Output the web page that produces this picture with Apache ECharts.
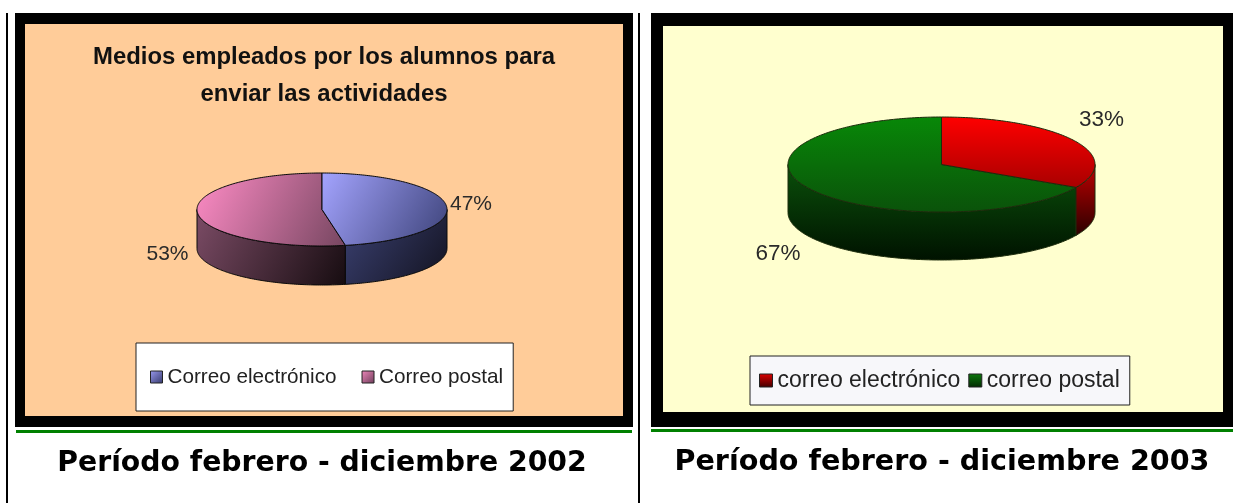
<!DOCTYPE html>
<html><head><meta charset="utf-8">
<style>html,body{margin:0;padding:0;background:#fff}#c{width:1233px;height:503px}</style>
<script src="https://cdn.jsdelivr.net/npm/echarts@6/dist/echarts.min.js"></script>
</head><body><div id="c"></div>
<script>
// ---- data ----
const categories2002 = ['Correo electrónico', 'Correo postal'];
const values2002 = [47, 53];
const categories2003 = ['correo electrónico', 'correo postal'];
const values2003 = [33, 67];
const chartTitle2002 = 'Medios empleados por los alumnos para\nenviar las actividades';
const caption2002 = 'Período febrero - diciembre 2002';
const caption2003 = 'Período febrero - diciembre 2003';

// ---- layout and styling ----
function grad(x2, y2, a, b) {
  return {type:'linear', x:0, y:0, x2:x2, y2:y2, colorStops:[{offset:0,color:a},{offset:1,color:b}]};
}
const layout2002 = {
  cx:322, cy:209.5, rx:125, ry:36.5, depth:39, stroke:'#0a0a0a', font:'21px "Liberation Sans"',
  labels:[{x:471,y:204},{x:167.5,y:254}],
  top:[grad(1,1,'#a4a4ff','#3c4278'), grad(1,1,'#ff8cc6','#764660')],
  wall:[grad(1,1,'#3c4274','#12121f'), grad(1,1,'#7c4c66','#160c10')],
  key:[grad(1,1,'#9a9af0','#34386a'), grad(1,1,'#f088bc','#6c3c58')]
};
const layout2003 = {
  cx:941.5, cy:164.5, rx:153.5, ry:47.5, depth:48, stroke:'#1c2c0c', font:'22.5px "Liberation Sans"',
  labels:[{x:1101.5,y:120},{x:778,y:254}],
  top:[grad(0,1,'#ff0000','#a80000'), grad(0,1,'#088808','#0a520a')],
  wall:[grad(0,1,'#c00000','#2a0000'), grad(0,1,'#0a500a','#001200')],
  key:[grad(0,1,'#e00000','#400000'), grad(0,1,'#0c7a0c','#022a02')]
};

function pt(L, deg, dy) {
  const t = deg * Math.PI / 180;
  return [L.cx + L.rx * Math.sin(t), L.cy - L.ry * Math.cos(t) + (dy || 0)];
}
function sliceSeries(name, L, i, value, before) {
  return {
    type:'custom', name:name, coordinateSystem:'none', silent:true, z:5 - i,
    data:[[value, before]],
    itemStyle:{color:L.key[i]},
    renderItem:function (params, api) {
      const v = api.value(0), b = api.value(1);
      const a0 = b * 3.6, a1 = (b + v) * 3.6;
      const children = [];
      // side wall: only the front half of the rim is visible
      const w0 = Math.max(a0, 90), w1 = Math.min(a1, 270);
      if (w1 > w0) {
        const upper = [], lower = [];
        for (let d = w0; d < w1; d += 1) { upper.push(pt(L, d)); lower.push(pt(L, d, L.depth)); }
        upper.push(pt(L, w1)); lower.push(pt(L, w1, L.depth));
        children.push({type:'polygon', shape:{points:upper.concat(lower.reverse())},
          style:{fill:L.wall[i], stroke:L.stroke, lineWidth:1}});
      }
      // top face
      const face = [[L.cx, L.cy]];
      for (let d = a0; d < a1; d += 1) face.push(pt(L, d));
      face.push(pt(L, a1));
      children.push({type:'polygon', shape:{points:face},
        style:{fill:L.top[i], stroke:L.stroke, lineWidth:1}});
      children.push({type:'text', style:{text:v + '%', x:L.labels[i].x, y:L.labels[i].y,
        align:'center', verticalAlign:'middle', fill:'#2a2a2a', font:L.font}});
      return {type:'group', children:children};
    }
  };
}
function rect(x, y, w, h, fill) {
  return {type:'rect', silent:true, z:-10, shape:{x:x,y:y,width:w,height:h}, style:{fill:fill}};
}
function legendKeys(names, L) {
  return names.map((n, i) => ({name:n, icon:'rect', itemStyle:{color:L.key[i], borderColor:'#222', borderWidth:1}}));
}
const captionStyle2002 = {fontFamily:'"DejaVu Sans"', fontWeight:'bold', fontSize:28.3, color:'#000'};
const captionStyle2003 = {fontFamily:'"DejaVu Sans"', fontWeight:'bold', fontSize:28.6, color:'#000'};

const option = {
  animation:false,
  backgroundColor:'#fff',
  title:[
    {text:chartTitle2002, left:319, top:34, textAlign:'center',
     textStyle:{fontFamily:'"Liberation Sans"', fontWeight:'bold', fontSize:23.9, lineHeight:37, color:'#111'}},
    {text:caption2002, left:317, top:445, textAlign:'center', textStyle:captionStyle2002},
    {text:caption2003, left:937, top:443, textAlign:'center', textStyle:captionStyle2003}
  ],
  legend:[
    {data:legendKeys(categories2002, layout2002), left:136, top:343, selectedMode:false,
     orient:'horizontal', itemWidth:12, itemHeight:12, itemGap:25, padding:[23.5,10,23.5,14],
     backgroundColor:'#fff', borderColor:'#222', borderWidth:1, borderRadius:0,
     textStyle:{fontFamily:'"Liberation Sans"', fontSize:20.7, color:'#222'}},
    {data:legendKeys(categories2003, layout2003), left:750, top:356, selectedMode:false,
     orient:'horizontal', itemWidth:13, itemHeight:13, itemGap:8, padding:[13,10,13,9],
     backgroundColor:'#f7f7fa', borderColor:'#222', borderWidth:1, borderRadius:0,
     textStyle:{fontFamily:'"Liberation Sans"', fontSize:23, color:'#222'}}
  ],
  graphic:{elements:[
    rect(6, 13, 2, 490, '#000'),
    rect(638, 13, 2, 490, '#000'),
    rect(15, 13, 618, 414, '#000'),
    rect(25, 24, 598, 392, '#ffcc99'),
    rect(16, 430, 616, 3, '#008000'),
    rect(651, 13, 582, 414, '#000'),
    rect(663, 26, 560, 386, '#ffffcf'),
    rect(651, 429, 582, 3, '#008000')
  ]},
  series:[
    sliceSeries(categories2002[0], layout2002, 0, values2002[0], 0),
    sliceSeries(categories2002[1], layout2002, 1, values2002[1], values2002[0]),
    sliceSeries(categories2003[0], layout2003, 0, values2003[0], 0),
    sliceSeries(categories2003[1], layout2003, 1, values2003[1], values2003[0])
  ]
};
const chart = echarts.init(document.getElementById('c'), null, {renderer:'canvas'});
chart.setOption(option);
</script></body></html>
